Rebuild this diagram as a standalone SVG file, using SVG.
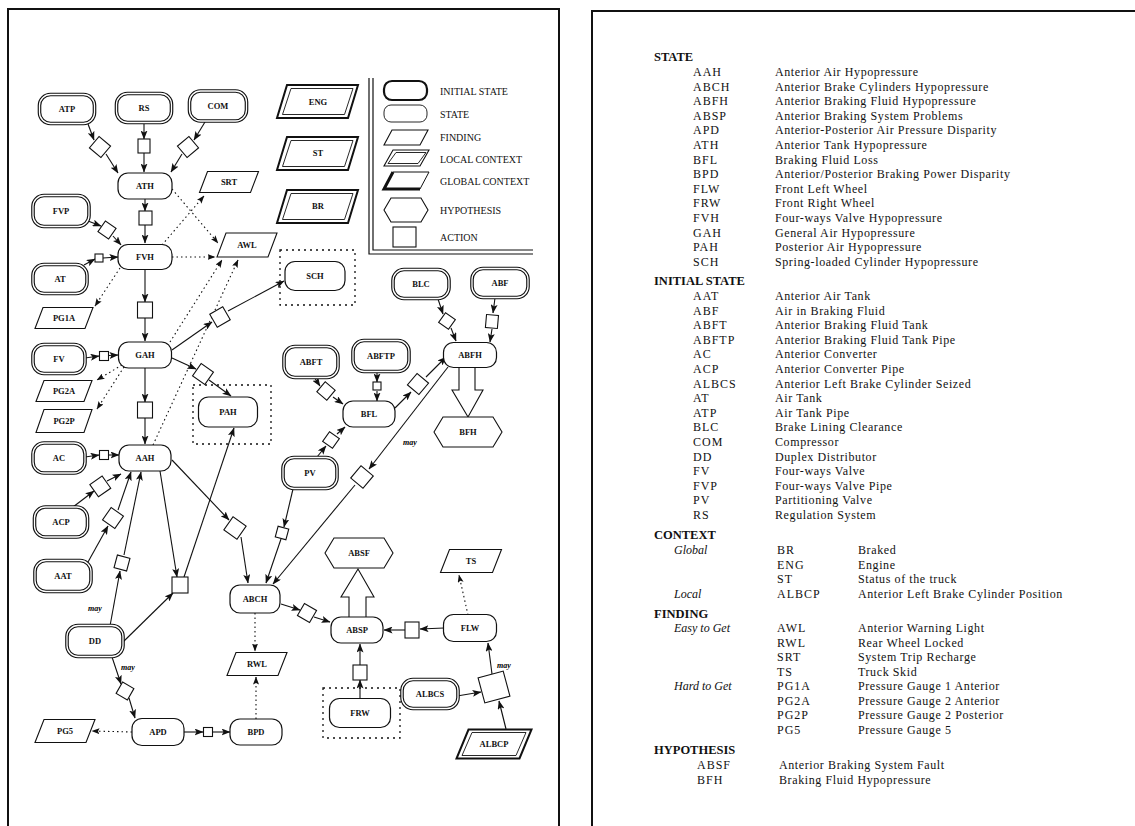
<svg xmlns="http://www.w3.org/2000/svg" width="1135" height="826" viewBox="0 0 1135 826">
<defs>
<marker id="a" markerUnits="userSpaceOnUse" markerWidth="9" markerHeight="7" refX="8.5" refY="3.5" orient="auto"><path d="M0,0 L9,3.5 L0,7 L2,3.5 z" fill="#111"/></marker>
<marker id="d" markerUnits="userSpaceOnUse" markerWidth="8" markerHeight="6" refX="7.5" refY="3" orient="auto"><path d="M0,0 L8,3 L0,6 L1.5,3 z" fill="#111"/></marker>
</defs>
<style>
.fr{fill:none;stroke:#111;stroke-width:2}
.io{fill:#fff;stroke:#111;stroke-width:3.6}
.ii{fill:none;stroke:#fff;stroke-width:1.3}
.st{fill:#fff;stroke:#111;stroke-width:1.2}
.fd{fill:#fff;stroke:#111;stroke-width:1.1}
.gc{fill:#fff;stroke:#111;stroke-width:2}
.gi{fill:none;stroke:#111;stroke-width:0.9}
.hy{fill:#fff;stroke:#111;stroke-width:1.1}
.ac{fill:#fff;stroke:#111;stroke-width:1.1}
.bx{fill:none;stroke:#111;stroke-width:1.3;stroke-dasharray:2 4}
.ln{fill:none;stroke:#111;stroke-width:1.1;marker-end:url(#a)}
.dt{fill:none;stroke:#111;stroke-width:1.1;stroke-dasharray:1.5 3;marker-end:url(#d)}
.ha{fill:#fff;stroke:#111;stroke-width:1.1}
.t{font-family:"Liberation Serif",serif;font-size:8.5px;font-weight:bold;text-anchor:middle;dominant-baseline:central;fill:#111}
.may{font-family:"Liberation Serif",serif;font-size:8px;font-style:italic;font-weight:bold;fill:#000}
.lg{font-family:"Liberation Serif",serif;font-size:10px;fill:#111;dominant-baseline:central}
.h{font-family:"Liberation Serif",serif;font-size:12.5px;font-weight:bold;fill:#111;dominant-baseline:central}
.r{font-family:"Liberation Serif",serif;font-size:12px;fill:#111;letter-spacing:0.6px;dominant-baseline:central}
.ab{font-family:"Liberation Serif",serif;font-size:12px;fill:#111;letter-spacing:1px;dominant-baseline:central}
.it{font-family:"Liberation Serif",serif;font-size:12px;font-style:italic;fill:#111;dominant-baseline:central}
</style>
<rect width="1135" height="826" fill="#fff"/>
<!-- frames -->
<polyline class="fr" points="8,826 8,9 559,9 559,826"/>
<polyline class="fr" points="592,826 592,11 1135,11"/>
<!-- legend -->
<g id="legend">
<polyline fill="none" stroke="#111" stroke-width="1.2" points="369,78 369,254 533,254"/>
<polyline fill="none" stroke="#111" stroke-width="1.2" points="373,78 373,250 533,250"/>
<rect x="384" y="81" width="43" height="19" rx="8" fill="#fff" stroke="#111" stroke-width="2.2"/>
<rect x="384" y="105" width="43" height="17" rx="7" fill="#fff" stroke="#111" stroke-width="0.9"/>
<polygon class="fd" points="392,130 428,130 420,145 384,145"/>
<polygon class="fd" points="393,150 429,150 420,166 384,166"/>
<polygon class="gi" points="396,152.5 426,152.5 418,163.5 388,163.5"/>
<polygon fill="#fff" stroke="#111" stroke-width="1" points="393,172 429,172 420,189 384,189"/>
<polyline fill="none" stroke="#111" stroke-width="3" points="393,172 384,189 420,189"/>
<polygon class="hy" points="384,210 391,198 421,198 428,210 421,222 391,222"/>
<rect class="ac" x="393" y="227" width="23" height="20"/>
<text class="lg" x="440" y="91">INITIAL STATE</text>
<text class="lg" x="440" y="114">STATE</text>
<text class="lg" x="440" y="137">FINDING</text>
<text class="lg" x="440" y="159">LOCAL CONTEXT</text>
<text class="lg" x="440" y="181">GLOBAL CONTEXT</text>
<text class="lg" x="440" y="210">HYPOTHESIS</text>
<text class="lg" x="440" y="237">ACTION</text>
</g>
<!-- dotted boxes -->
<g id="boxes">
<rect class="bx" x="280" y="250" width="75" height="55"/>
<rect class="bx" x="193" y="385" width="78" height="59"/>
<rect class="bx" x="323" y="688" width="77" height="50"/>
</g>
<!-- connectors -->
<g id="connectors">
<line class="ln" x1="88" y1="124" x2="94" y2="140"/>
<line class="ln" x1="106" y1="154" x2="118" y2="173"/>
<line class="ln" x1="144" y1="123" x2="144" y2="139"/>
<line class="ln" x1="144" y1="153" x2="144" y2="172"/>
<line class="ln" x1="205" y1="122" x2="194" y2="140"/>
<line class="ln" x1="182" y1="154" x2="171" y2="172"/>
<line class="ln" x1="145" y1="199" x2="145" y2="211"/>
<line class="ln" x1="145" y1="225" x2="145" y2="243"/>
<line class="ln" x1="88" y1="221" x2="101" y2="226"/>
<line class="ln" x1="113" y1="236" x2="121" y2="245"/>
<line class="ln" x1="84" y1="265" x2="95" y2="259"/>
<line class="ln" x1="103" y1="258" x2="118" y2="257"/>
<line class="ln" x1="145" y1="270" x2="145" y2="302"/>
<line class="ln" x1="145" y1="318" x2="145" y2="341"/>
<line class="ln" x1="85" y1="358" x2="99" y2="356"/>
<line class="ln" x1="109" y1="355.5" x2="118" y2="355"/>
<line class="ln" x1="145" y1="368" x2="145" y2="402"/>
<line class="ln" x1="145" y1="418" x2="145" y2="444"/>
<line class="ln" x1="85" y1="457" x2="99" y2="455"/>
<line class="ln" x1="109" y1="455" x2="119" y2="455"/>
<line class="ln" x1="172" y1="350" x2="212" y2="322"/>
<line class="ln" x1="228" y1="311" x2="284" y2="281"/>
<line class="ln" x1="172" y1="358" x2="196" y2="369"/>
<line class="ln" x1="209" y1="380" x2="231" y2="396"/>
<line class="ln" x1="73" y1="507" x2="94" y2="491"/>
<line class="ln" x1="107" y1="481" x2="121" y2="474"/>
<line class="ln" x1="88" y1="562" x2="108" y2="526"/>
<line class="ln" x1="118" y1="510" x2="131" y2="472"/>
<line class="ln" x1="110" y1="626" x2="120" y2="571"/>
<line class="ln" x1="124" y1="555" x2="141" y2="472"/>
<line class="ln" x1="123" y1="642" x2="173" y2="593"/>
<line class="ln" x1="160" y1="471" x2="177" y2="577"/>
<line class="ln" x1="184" y1="577" x2="234" y2="428"/>
<line class="ln" x1="172" y1="460" x2="229" y2="520"/>
<line class="ln" x1="241" y1="537" x2="248" y2="583"/>
<line class="ln" x1="293" y1="489" x2="284" y2="527"/>
<line class="ln" x1="281" y1="539" x2="266" y2="583"/>
<line class="ln" x1="448" y1="367" x2="369" y2="469"/>
<line class="ln" x1="355" y1="485" x2="273" y2="584"/>
<line class="ln" x1="317" y1="457" x2="326" y2="446"/>
<line class="ln" x1="337" y1="434" x2="345" y2="427"/>
<line class="ln" x1="314" y1="377" x2="320" y2="386"/>
<line class="ln" x1="333" y1="397" x2="343" y2="404"/>
<line class="ln" x1="377" y1="372" x2="377" y2="382"/>
<line class="ln" x1="377" y1="391" x2="377" y2="401"/>
<line class="ln" x1="395" y1="408" x2="411" y2="392"/>
<line class="ln" x1="426" y1="377" x2="446" y2="357"/>
<line class="ln" x1="438" y1="299" x2="443" y2="314"/>
<line class="ln" x1="451" y1="328" x2="456" y2="341"/>
<line class="ln" x1="495" y1="298" x2="493" y2="313"/>
<line class="ln" x1="492" y1="329" x2="490" y2="342"/>
<line class="ln" x1="281" y1="604" x2="300" y2="610"/>
<line class="ln" x1="314" y1="617" x2="330" y2="622"/>
<line class="ln" x1="444" y1="628" x2="420" y2="629"/>
<line class="ln" x1="405" y1="630" x2="384" y2="630"/>
<line class="ln" x1="360" y1="699" x2="360" y2="680"/>
<line class="ln" x1="360" y1="665" x2="360" y2="644"/>
<line class="ln" x1="457" y1="696" x2="481" y2="692"/>
<line class="ln" x1="506" y1="729" x2="499" y2="701"/>
<line class="ln" x1="492" y1="674" x2="488" y2="643"/>
<line class="ln" x1="112" y1="657" x2="121" y2="684"/>
<line class="ln" x1="129" y1="698" x2="135" y2="718"/>
<line class="ln" x1="184" y1="732" x2="203" y2="732"/>
<line class="ln" x1="213" y1="732" x2="230" y2="732"/>
<line class="dt" x1="172" y1="189" x2="218" y2="243"/>
<line class="dt" x1="162" y1="245" x2="204" y2="196"/>
<line class="dt" x1="172" y1="257" x2="215" y2="257"/>
<line class="dt" x1="170" y1="342" x2="222" y2="260"/>
<line class="dt" x1="153" y1="445" x2="238" y2="260"/>
<line class="dt" x1="120" y1="268" x2="95" y2="306"/>
<line class="dt" x1="122" y1="365" x2="97" y2="380"/>
<line class="dt" x1="124" y1="367" x2="97" y2="409"/>
<line class="dt" x1="255" y1="613" x2="255" y2="651"/>
<line class="dt" x1="256" y1="719" x2="256" y2="677"/>
<line class="dt" x1="132" y1="732" x2="92" y2="731"/>
<line class="dt" x1="468" y1="615" x2="459" y2="575"/>
<polyline class="ha" points="459,368 459,390 452,390 468,417 483,390 475,390 475,368"/>
<polyline class="ha" points="349,617 349,597 341,597 358,569 374,597 366,597 366,617"/>
<text class="may" x="403" y="445">may</text>
<text class="may" x="88" y="611">may</text>
<text class="may" x="121" y="670">may</text>
<text class="may" x="497" y="668">may</text>
</g>
<!-- actions -->
<g id="actions">
<rect class="ac" x="92.5" y="139.5" width="15" height="15" transform="rotate(40 100 147)"/>
<rect class="ac" x="138" y="139" width="12" height="14"/>
<rect class="ac" x="180.5" y="139.5" width="15" height="15" transform="rotate(-40 188 147)"/>
<rect class="ac" x="139" y="211" width="13" height="14"/>
<rect class="ac" x="100.5" y="223.5" width="13" height="13" transform="rotate(35 107 230)"/>
<rect class="ac" x="95" y="254" width="8" height="8"/>
<rect class="ac" x="137.5" y="302" width="15" height="16"/>
<rect class="ac" x="99.5" y="351.5" width="9" height="9"/>
<rect class="ac" x="212.5" y="309.5" width="15" height="15" transform="rotate(-30 220 317)"/>
<rect class="ac" x="195.5" y="366.5" width="15" height="15" transform="rotate(35 203 374)"/>
<rect class="ac" x="137.5" y="402" width="15" height="16"/>
<rect class="ac" x="99.5" y="450.5" width="9" height="9"/>
<rect class="ac" x="92.5" y="479" width="15" height="15" transform="rotate(-35 100 486)"/>
<rect class="ac" x="105.5" y="510.5" width="15" height="15" transform="rotate(35 113 518)"/>
<rect class="ac" x="115.5" y="556.5" width="13" height="13" transform="rotate(15 122 563)"/>
<rect class="ac" x="172" y="577" width="16" height="16"/>
<rect class="ac" x="227" y="520" width="16" height="16" transform="rotate(35 235 528)"/>
<rect class="ac" x="276.5" y="527.5" width="11" height="11" transform="rotate(15 282 533)"/>
<rect class="ac" x="354" y="469" width="16" height="16" transform="rotate(40 362 477)"/>
<rect class="ac" x="325" y="434" width="12" height="12" transform="rotate(35 331 440)"/>
<rect class="ac" x="319.5" y="384.5" width="13" height="13" transform="rotate(40 326 391)"/>
<rect class="ac" x="373" y="382" width="8" height="8"/>
<rect class="ac" x="410.5" y="376.5" width="15" height="15" transform="rotate(40 418 384)"/>
<rect class="ac" x="441" y="315" width="12" height="12" transform="rotate(35 447 321)"/>
<rect class="ac" x="486" y="315" width="12" height="13" transform="rotate(5 492 321)"/>
<rect class="ac" x="300" y="606" width="14" height="14" transform="rotate(30 307 613)"/>
<rect class="ac" x="405" y="622" width="14" height="16"/>
<rect class="ac" x="353" y="665" width="14" height="15"/>
<rect class="ac" x="481" y="674" width="26" height="26" transform="rotate(-15 494 687)"/>
<rect class="ac" x="118.5" y="684.5" width="13" height="13" transform="rotate(30 125 691)"/>
<rect class="ac" x="203.5" y="727.5" width="9" height="9"/>
</g>
<!-- initial states -->
<g id="ATP"><rect class="io" x="39.5" y="94.5" width="55" height="29" rx="11"/><rect class="ii" x="39.5" y="94.5" width="55" height="29" rx="11"/><text class="t" x="67" y="109">ATP</text></g>
<g id="RS"><rect class="io" x="116.5" y="93.5" width="55" height="29" rx="11"/><rect class="ii" x="116.5" y="93.5" width="55" height="29" rx="11"/><text class="t" x="144" y="108">RS</text></g>
<g id="COM"><rect class="io" x="189.5" y="91" width="57" height="30" rx="11"/><rect class="ii" x="189.5" y="91" width="57" height="30" rx="11"/><text class="t" x="218" y="106">COM</text></g>
<g id="FVP"><rect class="io" x="33" y="195.5" width="56" height="31" rx="11"/><rect class="ii" x="33" y="195.5" width="56" height="31" rx="11"/><text class="t" x="61" y="211">FVP</text></g>
<g id="AT"><rect class="io" x="33" y="264.5" width="54" height="29" rx="11"/><rect class="ii" x="33" y="264.5" width="54" height="29" rx="11"/><text class="t" x="60" y="279">AT</text></g>
<g id="FV"><rect class="io" x="33" y="344.5" width="52" height="29" rx="11"/><rect class="ii" x="33" y="344.5" width="52" height="29" rx="11"/><text class="t" x="59" y="359">FV</text></g>
<g id="AC"><rect class="io" x="33" y="443" width="52" height="30" rx="11"/><rect class="ii" x="33" y="443" width="52" height="30" rx="11"/><text class="t" x="59" y="458">AC</text></g>
<g id="ACP"><rect class="io" x="34.5" y="507" width="53" height="30" rx="11"/><rect class="ii" x="34.5" y="507" width="53" height="30" rx="11"/><text class="t" x="61" y="522">ACP</text></g>
<g id="AAT"><rect class="io" x="35" y="560.5" width="56" height="31" rx="11"/><rect class="ii" x="35" y="560.5" width="56" height="31" rx="11"/><text class="t" x="63" y="576">AAT</text></g>
<g id="DD"><rect class="io" x="67" y="625.5" width="56" height="31" rx="11"/><rect class="ii" x="67" y="625.5" width="56" height="31" rx="11"/><text class="t" x="95" y="641">DD</text></g>
<g id="BLC"><rect class="io" x="393" y="269.5" width="56" height="29" rx="11"/><rect class="ii" x="393" y="269.5" width="56" height="29" rx="11"/><text class="t" x="421" y="284">BLC</text></g>
<g id="ABF"><rect class="io" x="472" y="268.5" width="56" height="29" rx="11"/><rect class="ii" x="472" y="268.5" width="56" height="29" rx="11"/><text class="t" x="500" y="283">ABF</text></g>
<g id="ABFT"><rect class="io" x="284" y="346.5" width="54" height="31" rx="11"/><rect class="ii" x="284" y="346.5" width="54" height="31" rx="11"/><text class="t" x="311" y="362">ABFT</text></g>
<g id="ABFTP"><rect class="io" x="353" y="340.5" width="56" height="31" rx="11"/><rect class="ii" x="353" y="340.5" width="56" height="31" rx="11"/><text class="t" x="381" y="356">ABFTP</text></g>
<g id="PV"><rect class="io" x="283" y="457.5" width="54" height="31" rx="11"/><rect class="ii" x="283" y="457.5" width="54" height="31" rx="11"/><text class="t" x="310" y="473">PV</text></g>
<g id="ALBCS"><rect class="io" x="402" y="679.5" width="56" height="29" rx="11"/><rect class="ii" x="402" y="679.5" width="56" height="29" rx="11"/><text class="t" x="430" y="694">ALBCS</text></g>
<!-- states -->
<g id="ATH"><rect class="st" x="118" y="173" width="54" height="26" rx="10"/><text class="t" x="145" y="186">ATH</text></g>
<g id="FVH"><rect class="st" x="118" y="244.5" width="54" height="25" rx="10"/><text class="t" x="145" y="257">FVH</text></g>
<g id="GAH"><rect class="st" x="118.5" y="342" width="53" height="26" rx="10"/><text class="t" x="145" y="355">GAH</text></g>
<g id="AAH"><rect class="st" x="119" y="445" width="52" height="26" rx="10"/><text class="t" x="145" y="458">AAH</text></g>
<g id="SCH"><rect class="st" x="285" y="261.5" width="60" height="29" rx="10"/><text class="t" x="315" y="276">SCH</text></g>
<g id="PAH"><rect class="st" x="198.5" y="397" width="59" height="30" rx="10"/><text class="t" x="228" y="412">PAH</text></g>
<g id="ABFH"><rect class="st" x="443.5" y="342.5" width="53" height="25" rx="10"/><text class="t" x="470" y="355">ABFH</text></g>
<g id="BFL"><rect class="st" x="343" y="401" width="52" height="26" rx="10"/><text class="t" x="369" y="414">BFL</text></g>
<g id="ABCH"><rect class="st" x="230" y="585" width="50" height="28" rx="10"/><text class="t" x="255" y="599">ABCH</text></g>
<g id="APD"><rect class="st" x="132" y="718.5" width="52" height="27" rx="10"/><text class="t" x="158" y="732">APD</text></g>
<g id="BPD"><rect class="st" x="230" y="719" width="52" height="26" rx="10"/><text class="t" x="256" y="732">BPD</text></g>
<g id="ABSP"><rect class="st" x="331" y="617" width="52" height="26" rx="10"/><text class="t" x="357" y="630">ABSP</text></g>
<g id="FLW"><rect class="st" x="443.5" y="614.5" width="53" height="27" rx="10"/><text class="t" x="470" y="628">FLW</text></g>
<g id="FRW"><rect class="st" x="329.5" y="698.5" width="61" height="29" rx="10"/><text class="t" x="360" y="713">FRW</text></g>
<!-- findings -->
<g id="SRT"><polygon class="fd" points="207.5,171.5 258.5,171.5 250.5,192.5 199.5,192.5"/><text class="t" x="229" y="182">SRT</text></g>
<g id="AWL"><polygon class="fd" points="226,233 277,233 268,257 217,257"/><text class="t" x="247" y="245">AWL</text></g>
<g id="PG1A"><polygon class="fd" points="43,307.5 93,307.5 85,328.5 35,328.5"/><text class="t" x="64" y="318">PG1A</text></g>
<g id="PG2A"><polygon class="fd" points="44,380.5 92,380.5 84,401.5 36,401.5"/><text class="t" x="64" y="391">PG2A</text></g>
<g id="PG2P"><polygon class="fd" points="44,409.5 92,409.5 84,432.5 36,432.5"/><text class="t" x="64" y="421">PG2P</text></g>
<g id="RWL"><polygon class="fd" points="236,652.5 287,652.5 278,675.5 227,675.5"/><text class="t" x="257" y="664">RWL</text></g>
<g id="PG5"><polygon class="fd" points="44,719.5 95,719.5 86,742.5 35,742.5"/><text class="t" x="65" y="731">PG5</text></g>
<g id="TS"><polygon class="fd" points="449.5,549.5 501.5,549.5 492.5,572.5 440.5,572.5"/><text class="t" x="471" y="561">TS</text></g>
<!-- contexts -->
<g id="ENG"><polygon class="gc" points="287,85 358,85 348,118 277,118"/><polygon class="gi" points="291,88.5 353,88.5 344.5,114.5 282.5,114.5"/><text class="t" x="318" y="102">ENG</text></g>
<g id="ST"><polygon class="gc" points="287,137 358,137 348,170 277,170"/><polygon class="gi" points="291,140.5 353,140.5 344.5,166.5 282.5,166.5"/><text class="t" x="318" y="153">ST</text></g>
<g id="BR"><polygon class="gc" points="287,190 358,190 348,223 277,223"/><polygon class="gi" points="291,193.5 353,193.5 344.5,219.5 282.5,219.5"/><text class="t" x="318" y="206">BR</text></g>
<g id="ALBCP"><polygon class="gc" points="468.5,729.5 531.5,729.5 519.5,758.5 456.5,758.5"/><polygon class="gi" points="472,732.5 526,732.5 516,755.5 462,755.5"/><text class="t" x="494" y="744">ALBCP</text></g>
<!-- hypotheses -->
<g id="BFH"><polygon class="hy" points="434,432 443,417 493,417 502,432 493,447 443,447"/><text class="t" x="468" y="432">BFH</text></g>
<g id="ABSF"><polygon class="hy" points="325,553 334,538 384,538 393,553 384,568 334,568"/><text class="t" x="359" y="553">ABSF</text></g>
<!-- glossary -->
<g id="glossary">
<text class="h" x="654" y="57">STATE</text>
<text class="ab" x="693" y="72">AAH</text><text class="r" x="775" y="72">Anterior Air Hypopressure</text>
<text class="ab" x="693" y="86.6">ABCH</text><text class="r" x="775" y="86.6">Anterior Brake Cylinders Hypopressure</text>
<text class="ab" x="693" y="101.2">ABFH</text><text class="r" x="775" y="101.2">Anterior Braking Fluid Hypopressure</text>
<text class="ab" x="693" y="115.8">ABSP</text><text class="r" x="775" y="115.8">Anterior Braking System Problems</text>
<text class="ab" x="693" y="130.4">APD</text><text class="r" x="775" y="130.4">Anterior-Posterior Air Pressure Disparity</text>
<text class="ab" x="693" y="145">ATH</text><text class="r" x="775" y="145">Anterior Tank Hypopressure</text>
<text class="ab" x="693" y="159.6">BFL</text><text class="r" x="775" y="159.6">Braking Fluid Loss</text>
<text class="ab" x="693" y="174.2">BPD</text><text class="r" x="775" y="174.2">Anterior/Posterior Braking Power Disparity</text>
<text class="ab" x="693" y="188.8">FLW</text><text class="r" x="775" y="188.8">Front Left Wheel</text>
<text class="ab" x="693" y="203.4">FRW</text><text class="r" x="775" y="203.4">Front Right Wheel</text>
<text class="ab" x="693" y="218">FVH</text><text class="r" x="775" y="218">Four-ways Valve Hypopressure</text>
<text class="ab" x="693" y="232.6">GAH</text><text class="r" x="775" y="232.6">General Air Hypopressure</text>
<text class="ab" x="693" y="247.2">PAH</text><text class="r" x="775" y="247.2">Posterior Air Hypopressure</text>
<text class="ab" x="693" y="261.8">SCH</text><text class="r" x="775" y="261.8">Spring-loaded Cylinder Hypopressure</text>
<text class="h" x="654" y="281">INITIAL STATE</text>
<text class="ab" x="693" y="296">AAT</text><text class="r" x="775" y="296">Anterior Air Tank</text>
<text class="ab" x="693" y="310.6">ABF</text><text class="r" x="775" y="310.6">Air in Braking Fluid</text>
<text class="ab" x="693" y="325.2">ABFT</text><text class="r" x="775" y="325.2">Anterior Braking Fluid Tank</text>
<text class="ab" x="693" y="339.8">ABFTP</text><text class="r" x="775" y="339.8">Anterior Braking Fluid Tank Pipe</text>
<text class="ab" x="693" y="354.4">AC</text><text class="r" x="775" y="354.4">Anterior Converter</text>
<text class="ab" x="693" y="369">ACP</text><text class="r" x="775" y="369">Anterior Converter Pipe</text>
<text class="ab" x="693" y="383.6">ALBCS</text><text class="r" x="775" y="383.6">Anterior Left Brake Cylinder Seized</text>
<text class="ab" x="693" y="398.2">AT</text><text class="r" x="775" y="398.2">Air Tank</text>
<text class="ab" x="693" y="412.8">ATP</text><text class="r" x="775" y="412.8">Air Tank Pipe</text>
<text class="ab" x="693" y="427.4">BLC</text><text class="r" x="775" y="427.4">Brake Lining Clearance</text>
<text class="ab" x="693" y="442">COM</text><text class="r" x="775" y="442">Compressor</text>
<text class="ab" x="693" y="456.6">DD</text><text class="r" x="775" y="456.6">Duplex Distributor</text>
<text class="ab" x="693" y="471.2">FV</text><text class="r" x="775" y="471.2">Four-ways Valve</text>
<text class="ab" x="693" y="485.8">FVP</text><text class="r" x="775" y="485.8">Four-ways Valve Pipe</text>
<text class="ab" x="693" y="500.4">PV</text><text class="r" x="775" y="500.4">Partitioning Valve</text>
<text class="ab" x="693" y="515">RS</text><text class="r" x="775" y="515">Regulation System</text>
<text class="h" x="654" y="535">CONTEXT</text>
<text class="it" x="674" y="550">Global</text>
<text class="ab" x="777" y="550">BR</text><text class="r" x="858" y="550">Braked</text>
<text class="ab" x="777" y="564.5">ENG</text><text class="r" x="858" y="564.5">Engine</text>
<text class="ab" x="777" y="579">ST</text><text class="r" x="858" y="579">Status of the truck</text>
<text class="it" x="674" y="593.5">Local</text>
<text class="ab" x="777" y="593.5">ALBCP</text><text class="r" x="858" y="593.5">Anterior Left Brake Cylinder Position</text>
<text class="h" x="654" y="614">FINDING</text>
<text class="it" x="674" y="628">Easy to Get</text>
<text class="ab" x="777" y="628">AWL</text><text class="r" x="858" y="628">Anterior Warning Light</text>
<text class="ab" x="777" y="642.5">RWL</text><text class="r" x="858" y="642.5">Rear Wheel Locked</text>
<text class="ab" x="777" y="657">SRT</text><text class="r" x="858" y="657">System Trip Recharge</text>
<text class="ab" x="777" y="671.5">TS</text><text class="r" x="858" y="671.5">Truck Skid</text>
<text class="it" x="674" y="686">Hard to Get</text>
<text class="ab" x="777" y="686">PG1A</text><text class="r" x="858" y="686">Pressure Gauge 1 Anterior</text>
<text class="ab" x="777" y="700.5">PG2A</text><text class="r" x="858" y="700.5">Pressure Gauge 2 Anterior</text>
<text class="ab" x="777" y="715">PG2P</text><text class="r" x="858" y="715">Pressure Gauge 2 Posterior</text>
<text class="ab" x="777" y="729.5">PG5</text><text class="r" x="858" y="729.5">Pressure Gauge 5</text>
<text class="h" x="654" y="750">HYPOTHESIS</text>
<text class="ab" x="697" y="765">ABSF</text><text class="r" x="779" y="765">Anterior Braking System Fault</text>
<text class="ab" x="697" y="779.5">BFH</text><text class="r" x="779" y="779.5">Braking Fluid Hypopressure</text>
</g>
</svg>
